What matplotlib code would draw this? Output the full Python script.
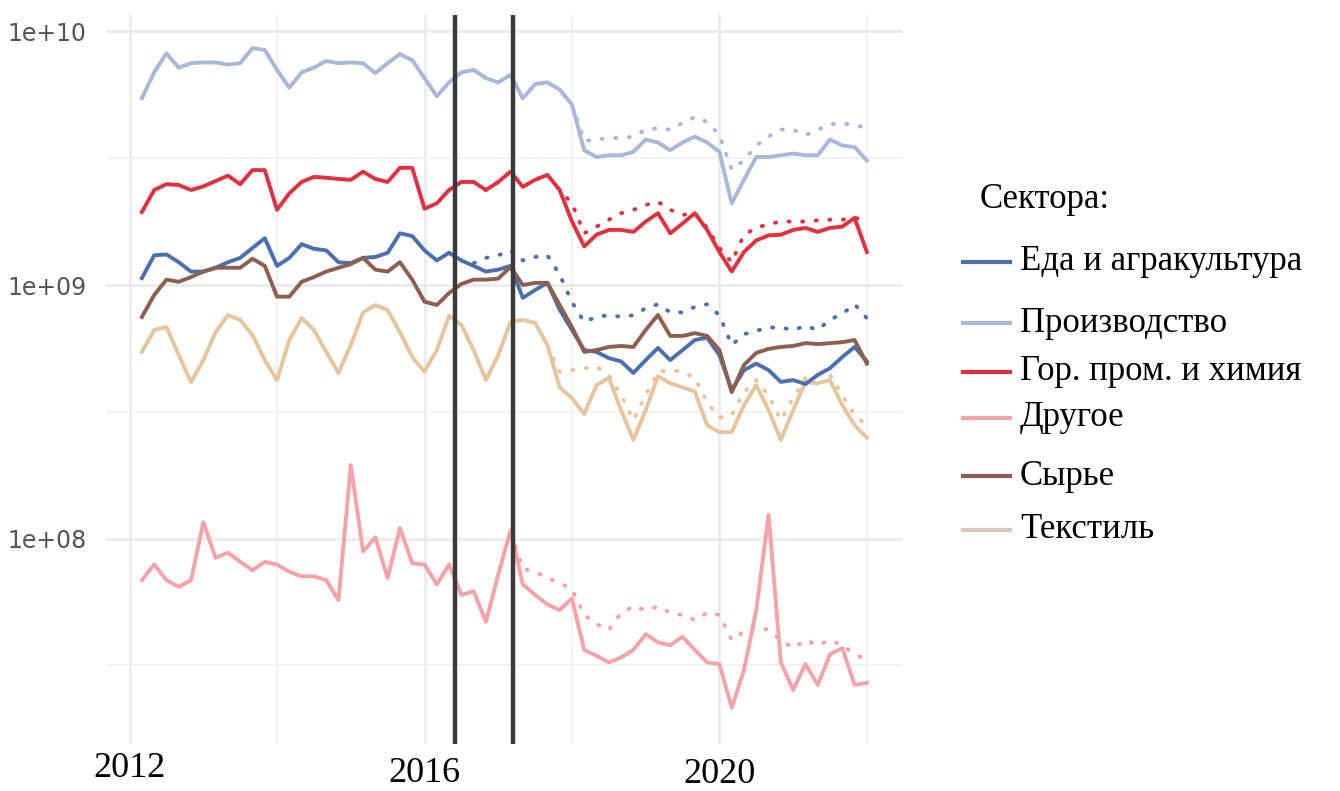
import numpy as np
import matplotlib
matplotlib.use("Agg")
import matplotlib.pyplot as plt
from matplotlib.lines import Line2D
from matplotlib.ticker import NullFormatter
from matplotlib.transforms import ScaledTranslation

# bimonthly observations, March 2012 .. January 2022 (decimal years)
years = 2012 + (2 + 2 * np.arange(60)) / 12
cf_start = 25  # counterfactual (dotted) lines start here

# values in billions
food = [1.065, 1.31, 1.32, 1.23, 1.13, 1.13, 1.17, 1.23, 1.28, 1.4,
        1.53, 1.19, 1.28, 1.45, 1.39, 1.37, 1.23, 1.22, 1.28, 1.29,
        1.34, 1.6, 1.56, 1.37, 1.25, 1.34, 1.25, 1.19, 1.13, 1.15,
        1.19, 0.89, 0.956, 1.02, 0.8, 0.665, 0.554, 0.545, 0.515, 0.5,
        0.45, 0.506, 0.565, 0.506, 0.554, 0.607, 0.62, 0.53, 0.385, 0.462,
        0.49, 0.462, 0.415, 0.422, 0.407, 0.442, 0.47, 0.52, 0.57, 0.5]
food_cf = [1.34, 1.25, 1.22, 1.28, 1.31, 1.37, 1.25, 1.29, 1.31, 1.1,
           0.856, 0.715, 0.75, 0.76, 0.75, 0.76, 0.81, 0.84, 0.78, 0.78,
           0.82, 0.84, 0.76, 0.58, 0.64, 0.66, 0.68, 0.68, 0.665, 0.69,
           0.665, 0.73, 0.77, 0.84, 0.74]

manuf = [5.45, 6.9, 8.2, 7.2, 7.5, 7.55, 7.55, 7.4, 7.5, 8.6,
         8.45, 7.05, 6.0, 6.9, 7.2, 7.65, 7.5, 7.55, 7.5, 6.85,
         7.5, 8.15, 7.7, 6.55, 5.55, 6.3, 6.9, 7.05, 6.55, 6.3,
         6.75, 5.45, 6.2, 6.3, 5.9, 5.15, 3.4, 3.2, 3.25, 3.25,
         3.35, 3.75, 3.65, 3.4, 3.65, 3.85, 3.65, 3.35, 2.1, 2.6,
         3.2, 3.2, 3.25, 3.3, 3.25, 3.25, 3.75, 3.55, 3.5, 3.1]
manuf_cf = [6.3, 6.9, 7.05, 6.55, 6.3, 6.75, 5.45, 6.2, 6.3, 5.9,
            5.15, 3.7, 3.75, 3.8, 3.8, 3.85, 4.1, 4.15, 4.1, 4.35,
            4.6, 4.4, 3.9, 2.85, 3.1, 3.55, 3.85, 4.1, 4.1, 3.9,
            4.1, 4.3, 4.35, 4.25, 4.2]

mining = [1.94, 2.37, 2.5, 2.48, 2.37, 2.45, 2.57, 2.7, 2.5, 2.84,
          2.84, 1.98, 2.3, 2.55, 2.67, 2.65, 2.62, 2.6, 2.8, 2.62,
          2.55, 2.9, 2.9, 2.0, 2.1, 2.37, 2.55, 2.55, 2.37, 2.55,
          2.8, 2.44, 2.6, 2.72, 2.37, 1.78, 1.42, 1.58, 1.65, 1.65,
          1.62, 1.78, 1.92, 1.6, 1.75, 1.92, 1.65, 1.35, 1.13, 1.35,
          1.5, 1.57, 1.58, 1.65, 1.68, 1.62, 1.68, 1.7, 1.84, 1.35]
mining_cf = [2.37, 2.55, 2.55, 2.37, 2.55, 2.8, 2.44, 2.6, 2.72, 2.37,
             2.1, 1.6, 1.7, 1.81, 1.92, 1.98, 2.07, 2.13, 1.98, 1.89,
             1.92, 1.68, 1.4, 1.23, 1.58, 1.68, 1.74, 1.78, 1.78, 1.78,
             1.8, 1.81, 1.81, 1.84, 1.81]

other = [0.0686, 0.079, 0.0686, 0.0645, 0.0686, 0.116, 0.084, 0.088, 0.081, 0.075,
         0.081, 0.079, 0.074, 0.071, 0.071, 0.0686, 0.0572, 0.195, 0.089, 0.101,
         0.07, 0.110, 0.080, 0.079, 0.066, 0.079, 0.06, 0.062, 0.047, 0.072,
         0.108, 0.066, 0.06, 0.055, 0.0523, 0.058, 0.0364, 0.0345, 0.0325, 0.034,
         0.0364, 0.042, 0.039, 0.038, 0.041, 0.0364, 0.0325, 0.032, 0.0215, 0.0303,
         0.0523, 0.124, 0.0325, 0.0253, 0.032, 0.0265, 0.035, 0.037, 0.0265, 0.027]
other_cf = [0.079, 0.06, 0.062, 0.047, 0.072, 0.108, 0.076, 0.074, 0.07, 0.067,
            0.063, 0.05, 0.046, 0.0436, 0.051, 0.054, 0.0523, 0.054, 0.051, 0.05,
            0.0477, 0.051, 0.05, 0.0398, 0.043, 0.045, 0.0436, 0.0398, 0.037, 0.0398,
            0.038, 0.0398, 0.038, 0.035, 0.0332]

raw = [0.748, 0.913, 1.05, 1.03, 1.075, 1.13, 1.17, 1.17, 1.17, 1.27,
       1.19, 0.9, 0.9, 1.03, 1.075, 1.13, 1.17, 1.21, 1.28, 1.15,
       1.13, 1.23, 1.05, 0.86, 0.834, 0.93, 1.01, 1.05, 1.05, 1.06,
       1.18, 1.0, 1.02, 1.02, 0.834, 0.683, 0.545, 0.554, 0.57, 0.575,
       0.57, 0.665, 0.762, 0.63, 0.63, 0.646, 0.63, 0.554, 0.378, 0.484,
       0.54, 0.56, 0.57, 0.575, 0.59, 0.585, 0.59, 0.595, 0.607, 0.49]

textile = [0.545, 0.665, 0.683, 0.53, 0.414, 0.506, 0.652, 0.762, 0.728, 0.635,
           0.506, 0.422, 0.607, 0.74, 0.665, 0.545, 0.45, 0.58, 0.78, 0.834,
           0.797, 0.652, 0.52, 0.455, 0.554, 0.755, 0.696, 0.554, 0.422, 0.53,
           0.716, 0.728, 0.71, 0.58, 0.395, 0.358, 0.31, 0.403, 0.43, 0.321,
           0.245, 0.321, 0.437, 0.41, 0.395, 0.38, 0.28, 0.263, 0.263, 0.336,
           0.403, 0.321, 0.245, 0.321, 0.414, 0.41, 0.422, 0.336, 0.28, 0.25]
textile_cf = [0.755, 0.696, 0.554, 0.422, 0.53, 0.716, 0.728, 0.71, 0.58, 0.455,
              0.462, 0.47, 0.475, 0.442, 0.368, 0.293, 0.368, 0.455, 0.462, 0.455,
              0.43, 0.345, 0.3, 0.307, 0.378, 0.422, 0.368, 0.293, 0.358, 0.43,
              0.442, 0.442, 0.368, 0.307, 0.28]

events = [2016.42, 2017.2]

sectors = ["Еда и агракультура", "Производство", "Гор. пром. и химия",
           "Другое", "Сырье", "Текстиль"]
colors = ["#4C6FB0", "#A9B7D9", "#E2303F", "#F6A2A8", "#8C5F50", "#E6C49C"]
legend_colors = ["#4C6FB0", "#A9B7D9", "#E2303F", "#F6A2A8", "#8C5F50", "#D9C7BD"]
series = [food, manuf, mining, other, raw, textile]
counterfactual = [food_cf, manuf_cf, mining_cf, other_cf, None, textile_cf]

serif = ["Liberation Serif", "DejaVu Serif"]

fig = plt.figure(figsize=(13.4, 7.91), dpi=100)
ax = fig.add_axes([106 / 1340, 47 / 791, 797 / 1340, 729 / 791])
ax.set_yscale("log")
ax.set_xlim(2011.68, 2022.49)
ax.set_ylim(10 ** 7.19, 10 ** 10.065)

draw_order = [5, 3, 1, 2, 0, 4]
for k in draw_order:
    cf = counterfactual[k]
    if cf is not None:
        ax.plot(years[cf_start:], np.array(cf) * 1e9, color=colors[k],
                lw=2.8, linestyle=(0, (0.3, 3.2)), dash_capstyle="round", zorder=2)
for k in draw_order:
    ax.plot(years, np.array(series[k]) * 1e9, color=colors[k], lw=2.8,
            solid_joinstyle="round", zorder=3)

for x in events:
    ax.axvline(x, color="#3a3a3a", lw=3.2, zorder=5)

# axes styling (ggplot minimal look)
ax.set_yticks([1e8, 1e9, 1e10])
ax.set_yticklabels(["1e+08", "1e+09", "1e+10"])
ax.set_yticks([10 ** 7.5, 10 ** 8.5, 10 ** 9.5], minor=True)
ax.yaxis.set_minor_formatter(NullFormatter())
ax.set_xticks([2012, 2016, 2020])
ax.set_xticklabels(["2012", "2016", "2020"])
ax.set_xticks([2014, 2018, 2022], minor=True)
ax.grid(which="major", color="#e9e9e9", lw=1.8, zorder=0)
ax.grid(which="minor", color="#f0f0f0", lw=1.2, zorder=0)
ax.set_axisbelow(True)
for s in ax.spines.values():
    s.set_visible(False)
ax.tick_params(which="both", length=0)
ax.tick_params(axis="y", labelsize=17, labelcolor="#555555", pad=14)
ax.tick_params(axis="x", labelsize=26, labelcolor="black", pad=6)
for lab in ax.get_xticklabels():
    lab.set_fontfamily(serif)
for lab, dy in zip(ax.get_xticklabels(), [0, -3, -4]):
    lab.set_transform(lab.get_transform() + ScaledTranslation(0, dy / 72, fig.dpi_scale_trans))

# legend drawn by hand to follow the uneven spacing of the original
fig.text(980 / 1340, 1 - 200 / 791, "Сектора:", fontsize=25, family=serif,
         va="center", ha="left")
entry_y = [262, 323, 372, 418, 476, 530]
for name, c, yy in zip(sectors, legend_colors, entry_y):
    yf = 1 - yy / 791
    fig.add_artist(Line2D([963 / 1340, 1010 / 1340], [yf, yf], color=c, lw=3,
                          transform=fig.transFigure))
    fig.text(1020 / 1340, yf, name, fontsize=25, family=serif, va="center", ha="left")

fig.savefig("out.png", dpi=100)
